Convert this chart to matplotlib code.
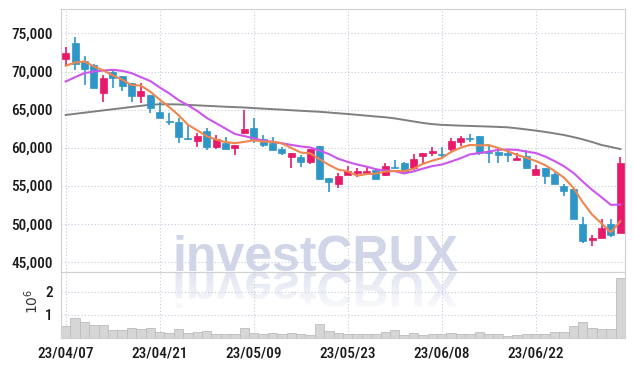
import numpy as np
import matplotlib
matplotlib.use('Agg')
import matplotlib.pyplot as plt
from matplotlib import font_manager
from matplotlib.colors import to_rgb
from matplotlib.patches import Rectangle, PathPatch
from matplotlib.textpath import TextPath
from matplotlib.font_manager import FontProperties
from matplotlib.transforms import Affine2D, IdentityTransform
from matplotlib.ticker import FuncFormatter

# daily candles, 23/04/07 .. 23/07/05
opens = [71700, 73700, 71400, 70900, 67150, 70000, 69450, 68500, 66800, 66950,
         64750, 63500, 63400, 61300, 60900, 62200, 60100, 60650, 60000, 61900,
         62650, 61100, 60600, 59850, 58800, 58800, 58150, 60200, 56050, 55300,
         56400, 56700, 56650, 57050, 56400, 57400, 58050, 57300, 58950, 59350,
         59150, 59900, 60800, 61300, 61550, 59450, 59450, 59250, 58450, 58900,
         56450, 57400, 56550, 54950, 54650, 50050, 47850, 48100, 49950, 48800]
highs = [73200, 74500, 72000, 71000, 69550, 70200, 69450, 68500, 68500, 66950,
         66050, 64500, 63950, 63000, 61900, 62550, 61650, 61450, 60400, 64950,
         63850, 61650, 61350, 60150, 59350, 59050, 59900, 60200, 56050, 56750,
         57650, 57350, 57500, 57050, 57950, 58400, 58150, 59150, 59300, 60150,
         60150, 61250, 61550, 61850, 61550, 60200, 60050, 59900, 59250, 59700,
         57700, 57400, 56850, 55300, 54650, 50900, 48600, 50650, 50600, 58800]
lows = [70800, 70250, 68200, 67800, 66050, 67900, 67500, 66050, 65900, 64500,
        63900, 63000, 60600, 61050, 60050, 59700, 59800, 59800, 59050, 61850,
        60600, 60150, 59700, 59050, 57300, 57500, 57850, 55750, 54200, 54750,
        56400, 56200, 56600, 55750, 56300, 57300, 56850, 57050, 57950, 58900,
        58600, 59250, 60250, 60800, 59050, 58050, 58050, 58150, 58450, 57150,
        56450, 55300, 55300, 53650, 50600, 47500, 47050, 48100, 48300, 48800]
closes = [72400, 71000, 70350, 67850, 69130, 69200, 68150, 66800, 67450, 65200,
          63950, 63350, 61450, 61100, 61550, 60100, 61150, 59850, 60350, 62400,
          61100, 60350, 59700, 59350, 59350, 58150, 59800, 55900, 55550, 56300,
          56950, 56950, 56950, 55950, 57600, 57300, 56850, 58500, 59250, 59600,
          59000, 60900, 61250, 61100, 59250, 59250, 59050, 59100, 58700, 57300,
          57200, 56300, 55300, 54350, 50600, 47750, 48150, 49500, 48500, 57950]
volumes = [0.53, 0.86, 0.69, 0.57, 0.57, 0.34, 0.34, 0.43, 0.39, 0.43,
           0.28, 0.23, 0.39, 0.21, 0.26, 0.30, 0.17, 0.17, 0.17, 0.43,
           0.21, 0.16, 0.21, 0.17, 0.21, 0.17, 0.13, 0.60, 0.30, 0.21,
           0.19, 0.17, 0.17, 0.17, 0.26, 0.34, 0.13, 0.21, 0.13, 0.17,
           0.17, 0.21, 0.17, 0.17, 0.26, 0.19, 0.19, 0.10, 0.13, 0.17,
           0.19, 0.19, 0.24, 0.26, 0.50, 0.69, 0.43, 0.39, 0.39, 2.57]

# moving averages: first values come from days before the window
ma5_head = [70750, 71180, 71320, 70660]
ma10_head = [68690, 69260, 69790, 70000, 70130, 70220, 70090, 69790, 69260]
ma60 = [64300, 64450, 64600, 64750, 64900, 65050, 65200, 65350, 65500, 65650,
        65700, 65700, 65680, 65620, 65560, 65500, 65440, 65380, 65330, 65280,
        65200, 65130, 65060, 65000, 64920, 64850, 64780, 64720, 64620, 64520,
        64430, 64320, 64210, 64100, 64000, 63850, 63650, 63450, 63250, 63100,
        63000, 62950, 62900, 62860, 62820, 62780, 62730, 62680, 62550, 62400,
        62250, 62080, 61880, 61670, 61400, 61100, 60750, 60360, 60100, 59830]

tick_pos = [0, 10, 20, 30, 40, 50]
tick_labels = ['23/04/07', '23/04/21', '23/05/09', '23/05/23', '23/06/08', '23/06/22']

n = len(closes)
ma5 = ma5_head + [np.mean(closes[i - 4:i + 1]) for i in range(4, n)]
ma10 = ma10_head + [np.mean(closes[i - 9:i + 1]) for i in range(9, n)]

names = {f.name for f in font_manager.fontManager.ttflist}
label_font = 'Roboto Condensed' if 'Roboto Condensed' in names else 'DejaVu Sans'

UP = '#e8196a'
DOWN = '#2f96c8'
GRID = '#c5c9dc'
SPINE = '#d0d0d0'

fig = plt.figure(figsize=(6.34, 3.66), dpi=100)
ax = fig.add_axes([61 / 634, 94 / 366, 564 / 634, 263 / 366])
axv = fig.add_axes([61 / 634, 28 / 366, 564 / 634, 66 / 366], sharex=ax)

x = np.arange(n)

# candles
for i in range(n):
    o, h, l, c = opens[i], highs[i], lows[i], closes[i]
    col = UP if c >= o else DOWN
    ax.vlines(i, l, h, color=col, lw=1.2, zorder=3)
    bot = min(o, c)
    hgt = max(abs(c - o), 150)
    ax.add_patch(Rectangle((i - 0.37, bot), 0.74, hgt, facecolor=col,
                           edgecolor=col, lw=0.5, zorder=4))

ax.plot(x, ma60, color='#7f7f7f', lw=1.4, zorder=2)
ax.plot(x, ma10, color='#cc55ee', lw=1.5, zorder=5)
ax.plot(x, ma5, color='#ef8650', lw=1.5, zorder=6)

# volume
axv.bar(x, volumes, width=1.0, color='#d6d6d6', edgecolor='#bdbdbd', lw=0.6, zorder=2)

# watermark and its fading reflection
wm_px = 50
wm_fp = FontProperties(family='Liberation Sans', weight='bold')
fig.text(172 / 634, 95 / 366, 'investCRUX', fontproperties=wm_fp,
         fontsize=wm_px * 72 / 100, color='#d0d5e8', ha='left', va='baseline', zorder=1)
tp = TextPath((0, 0), 'investCRUX', size=wm_px, prop=wm_fp)
refl = PathPatch(tp, facecolor='none', edgecolor='none',
                 transform=Affine2D().scale(1, -1).translate(172, 94) + IdentityTransform())
grad = np.zeros((64, 2, 4))
grad[:, :, :3] = to_rgb('#d6dbec')
grad[:, :, 3] = np.linspace(0.75, 0.1, 64)[:, None]
im = axv.imshow(grad, extent=[-0.5, n - 0.5, 1.15, 2.85], aspect='auto', zorder=0.5,
                interpolation='bilinear')
im.set_clip_path(refl)

ax.set_xlim(-0.5, n - 0.5)
ax.set_ylim(43700, 78200)
ax.set_yticks(range(45000, 75001, 5000))
ax.yaxis.set_major_formatter(FuncFormatter(lambda v, p: f'{int(v):,}'))
axv.set_ylim(0, 2.85)
axv.set_yticks([1, 2])
axv.set_xticks(tick_pos)
axv.set_xticklabels(tick_labels)

for a in (ax, axv):
    a.grid(True, color=GRID, linestyle=(0, (1, 2)), lw=0.8)
    a.tick_params(length=0, labelsize=11, labelcolor='#1a1a1a', pad=6)
    for s in a.spines.values():
        s.set_color(SPINE)
    for lab in a.get_xticklabels() + a.get_yticklabels():
        lab.set_family([label_font, 'DejaVu Sans'])
        lab.set_weight(500)
ax.tick_params(labelbottom=False)

fig.text(32 / 634, (366 - 301) / 366, r'$10^6$', rotation=90, ha='center',
         va='center', fontsize=10, color='#333333')

fig.savefig('out.png', dpi=100)
